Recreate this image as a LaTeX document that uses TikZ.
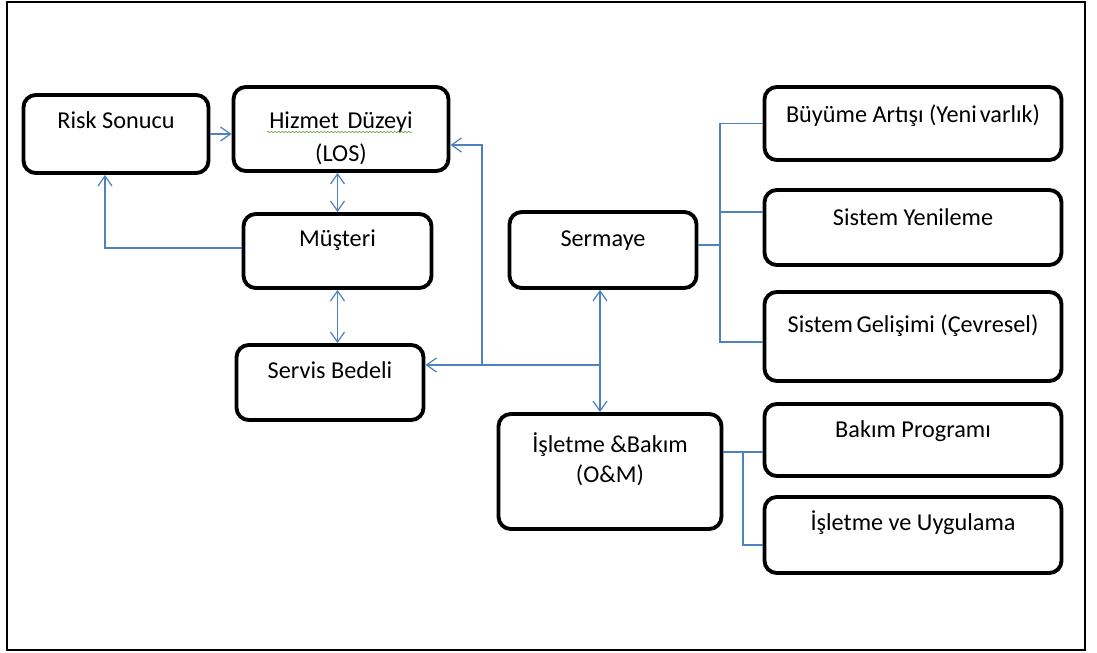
\documentclass[tikz,border=0pt]{standalone}
\usepackage{fontspec}
\setmainfont{Carlito}
\usetikzlibrary{arrows.meta,decorations.pathmorphing}
\definecolor{linkblue}{RGB}{79,129,189}
\definecolor{spellgreen}{RGB}{110,170,70}

\tikzset{
  box/.style n args={3}{draw, line width=2.2pt, rounded corners=7pt, inner sep=0pt,
    align=center, minimum width=#1, text height=#2, text depth=#3,
    font=\fontsize{13.8}{17}\selectfont, text=black},
  link/.style={draw=linkblue, line width=0.7pt},
  >={Straight Barb[length=2mm, width=2.8mm]},
}

\begin{document}
\begin{tikzpicture}
\useasboundingbox (0,0) rectangle (21.94,13.04);
\draw[line width=1.1pt] (0.14,0.04) rectangle (21.70,13.0);

% left column
\node[box={3.70cm}{0.68cm}{0.88cm}] (risk) at (2.32,10.36) {Risk Sonucu};
\node[box={4.30cm}{1.50cm}{0.18cm}] (hizmet) at (6.82,10.46) {Hizmet\hspace{0.35em}Düzeyi\\[0.08cm](LOS)};
\node[box={3.76cm}{0.66cm}{0.82cm}] (musteri) at (6.75,8.02) {Müşteri};
\node[box={3.74cm}{0.66cm}{0.84cm}] (servis) at (6.60,5.39) {Servis Bedeli};

% middle column
\node[box={3.74cm}{0.70cm}{0.82cm}] (sermaye) at (12.06,8.04) {Sermaye};
\node[box={4.46cm}{1.36cm}{0.94cm}] (isletme) at (12.20,3.61) {İşletme \&Bakım\\(O\&M)};

% right column
\node[box={5.94cm}{0.72cm}{0.74cm}] (buyume) at (18.26,10.57) {Büyüme Artışı (Yeni\hspace{0.12em}varlık)};
\node[box={5.94cm}{0.72cm}{0.78cm}] (yenileme) at (18.26,8.49) {Sistem Yenileme};
\node[box={5.94cm}{0.80cm}{0.98cm}] (gelisim) at (18.26,6.31) {Sistem\hspace{0.15em}Gelişimi (Çevresel)};
\node[box={5.94cm}{0.66cm}{0.78cm}] (bakim) at (18.26,4.24) {Bakım Programı};
\node[box={5.94cm}{0.66cm}{0.86cm}] (uygulama) at (18.26,2.34) {İşletme ve Uygulama};

% spell check mark
\draw[spellgreen, line width=0.4pt, decorate, decoration={snake, amplitude=0.4pt, segment length=2pt}] (5.34,10.40) -- (8.24,10.40);

% connectors, left
\draw[link, ->] (risk.east) -- (risk.east -| hizmet.west);
\draw[link, <->] (musteri.north) -- (musteri.north |- hizmet.south);
\draw[link, <->] (musteri.south) -- (musteri.south |- servis.north);
\draw[link, ->] ([yshift=0.06cm]musteri.west) -| ([xshift=-0.22cm]risk.south);

\coordinate (jn) at (12.0,5.74);
\coordinate (up) at (9.64,5.74);
\draw[link, <->] (sermaye.south -| jn) -- (isletme.north -| jn);
\draw[link, ->] (jn) -- (jn -| servis.east);
\draw[link, ->] (up) |- ([yshift=-0.32cm]hizmet.east);

% connectors, right
\coordinate (sbus) at (14.40,0);
\coordinate (obus) at (14.86,0);
\draw[link] ([yshift=0.1cm]sermaye.east) -- ([yshift=0.1cm]sermaye.east -| sbus);
\draw[link] (buyume.west) -| ([yshift=-0.11cm]gelisim.west -| sbus) -- ([yshift=-0.11cm]gelisim.west);
\draw[link] ([yshift=0.31cm]yenileme.west) -- ([yshift=0.31cm]yenileme.west -| sbus);
\draw[link] ([yshift=0.39cm]isletme.east) -- ([yshift=0.39cm]isletme.east -| bakim.west);
\draw[link] ([yshift=0.39cm]isletme.east -| obus) |- ([yshift=-0.2cm]uygulama.west);

\end{tikzpicture}
\end{document}
